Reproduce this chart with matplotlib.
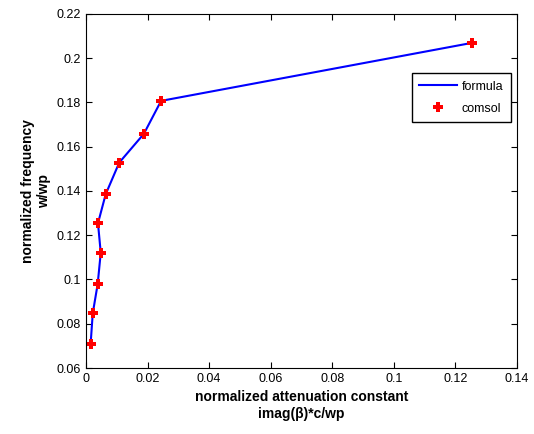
import matplotlib
matplotlib.use('Agg')
import matplotlib.pyplot as plt

plt.rcParams['font.family'] = ['Liberation Sans', 'DejaVu Sans']

# attenuation vs frequency (normalized)
atten = [0.0015, 0.0022, 0.0038, 0.0048, 0.0039, 0.0064, 0.0108, 0.0188, 0.0244, 0.1254]
freq = [0.0707, 0.0847, 0.0979, 0.1121, 0.1254, 0.1385, 0.1528, 0.1658, 0.1807, 0.2069]

fig = plt.figure(figsize=(5.34, 4.34), dpi=100)
ax = fig.add_axes([0.161, 0.152, 0.807, 0.816])

ax.plot(atten, freq, color='blue', lw=1.5, label='formula')
ax.plot(atten, freq, ls='none', marker='P', color='red', ms=6.5, mew=0, label='comsol')

ax.set_xlim(0, 0.14)
ax.set_ylim(0.06, 0.22)
ax.set_xticks([0, 0.02, 0.04, 0.06, 0.08, 0.1, 0.12, 0.14])
ax.set_xticklabels(['0', '0.02', '0.04', '0.06', '0.08', '0.1', '0.12', '0.14'])
ax.set_yticks([0.06, 0.08, 0.1, 0.12, 0.14, 0.16, 0.18, 0.2, 0.22])
ax.set_yticklabels(['0.06', '0.08', '0.1', '0.12', '0.14', '0.16', '0.18', '0.2', '0.22'])
ax.tick_params(direction='in', top=True, right=True, labelsize=9, length=4)

ax.set_xlabel('normalized attenuation constant\nimag(β)*c/wp', fontsize=10, fontweight='bold')
ax.set_ylabel('normalized frequency\nw/wp', fontsize=10, fontweight='bold')

leg = ax.legend(loc='upper right', bbox_to_anchor=(0.986, 0.833), borderaxespad=0,
                fontsize=9, fancybox=False, edgecolor='black', framealpha=1,
                handlelength=3.0, handletextpad=0.4, labelspacing=0.8,
                borderpad=0.6)
leg.get_frame().set_linewidth(1.0)

fig.savefig('out.png', dpi=100)
